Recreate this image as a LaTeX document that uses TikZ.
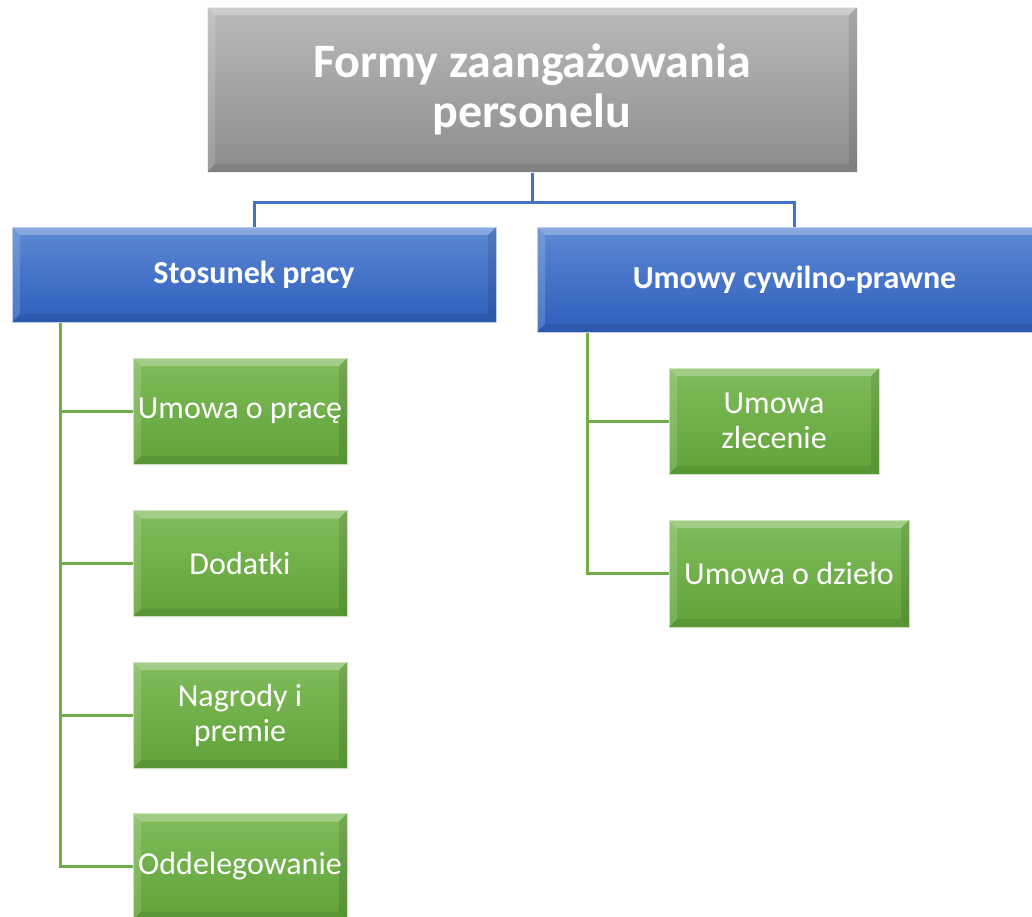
\documentclass[tikz,border=0pt]{standalone}
\usepackage{fontspec}
\setmainfont{Carlito}
\usetikzlibrary{positioning}

\definecolor{grayT}{HTML}{BABABA}
\definecolor{grayB}{HTML}{8C8C8C}
\definecolor{blueT}{HTML}{5D88D3}
\definecolor{blueB}{HTML}{2E5FBC}
\definecolor{greenT}{HTML}{80BC5B}
\definecolor{greenB}{HTML}{60A238}
\definecolor{linkblue}{HTML}{4472C4}
\definecolor{linkgreen}{HTML}{70AD47}

\tikzset{
  bevel/.style={path picture={
    \fill[white,opacity=.28] (path picture bounding box.north west) -- (path picture bounding box.north east)
      -- ([xshift=-#1,yshift=-#1]path picture bounding box.north east) -- ([xshift=#1,yshift=-#1]path picture bounding box.north west) -- cycle;
    \fill[white,opacity=.15] (path picture bounding box.north west) -- ([xshift=#1,yshift=-#1]path picture bounding box.north west)
      -- ([xshift=#1,yshift=#1]path picture bounding box.south west) -- (path picture bounding box.south west) -- cycle;
    \fill[black,opacity=.10] (path picture bounding box.north east) -- ([xshift=-#1,yshift=-#1]path picture bounding box.north east)
      -- ([xshift=-#1,yshift=#1]path picture bounding box.south east) -- (path picture bounding box.south east) -- cycle;
    \fill[black,opacity=.08] (path picture bounding box.south west) -- ([xshift=#1,yshift=#1]path picture bounding box.south west)
      -- ([xshift=-#1,yshift=#1]path picture bounding box.south east) -- (path picture bounding box.south east) -- cycle;
  }},
  box/.style={rectangle, text=white, align=center, inner sep=0pt, bevel=8pt},
  headbox/.style={box, top color=grayT, bottom color=grayB, draw=white!75!grayT, line width=1pt,
    font=\bfseries\fontsize{48}{50}\selectfont},
  groupbox/.style={box, top color=blueT, bottom color=blueB, draw=white!60!blueT, line width=1pt,
    font=\bfseries\fontsize{32}{36}\selectfont},
  itembox/.style={box, top color=greenT, bottom color=greenB, draw=white!60!greenT, line width=1pt,
    minimum height=106, font=\fontsize{32}{35}\selectfont},
  bluelink/.style={draw=linkblue, line width=3pt},
  greenlink/.style={draw=linkgreen, line width=3pt},
}

\begin{document}
\begin{tikzpicture}[x=1pt,y=-1pt]
\useasboundingbox (0,0) rectangle (1032,916);
\clip (0,0) rectangle (1032,916);

% headline
\node[headbox, minimum width=650, minimum height=165] (top) at (532,89.5) {Formy zaangażowania\\personelu};

% two groups
\node[groupbox, minimum width=484, minimum height=95] (stos) at (254,274.5) {Stosunek pracy};
\node[groupbox, minimum width=515, minimum height=105] (cyw) at (794.5,279.5) {Umowy cywilno-prawne};

\draw[bluelink] (top.south) -- ++(0,30) coordinate (bus) -| (stos.north);
\draw[bluelink] (bus) -| (cyw.north);

% left column
\node[itembox, minimum width=214] (praca) at (240,411) {Umowa o pracę};
\node[itembox, minimum width=214] (dodatki) at (240,563.5) {Dodatki};
\node[itembox, minimum width=214] (nagrody) at (240,715) {Nagrody i\\premie};
\node[itembox, minimum width=214] (odd) at (240,866.5) {Oddelegowanie};

% right column
\node[itembox, minimum width=210] (zlec) at (774,421) {Umowa\\zlecenie};
\node[itembox, minimum width=240, minimum height=107] (dzielo) at (789,573.5) {Umowa o dzieło};

\path (stos.south west) ++(49,0) coordinate (sbus);
\path (cyw.south west) ++(51,0) coordinate (cbus);
\foreach \n in {praca,dodatki,nagrody,odd}
  \draw[greenlink] (sbus) |- (\n.west);
\foreach \n in {zlec,dzielo}
  \draw[greenlink] (cbus) |- (\n.west);
\end{tikzpicture}
\end{document}
